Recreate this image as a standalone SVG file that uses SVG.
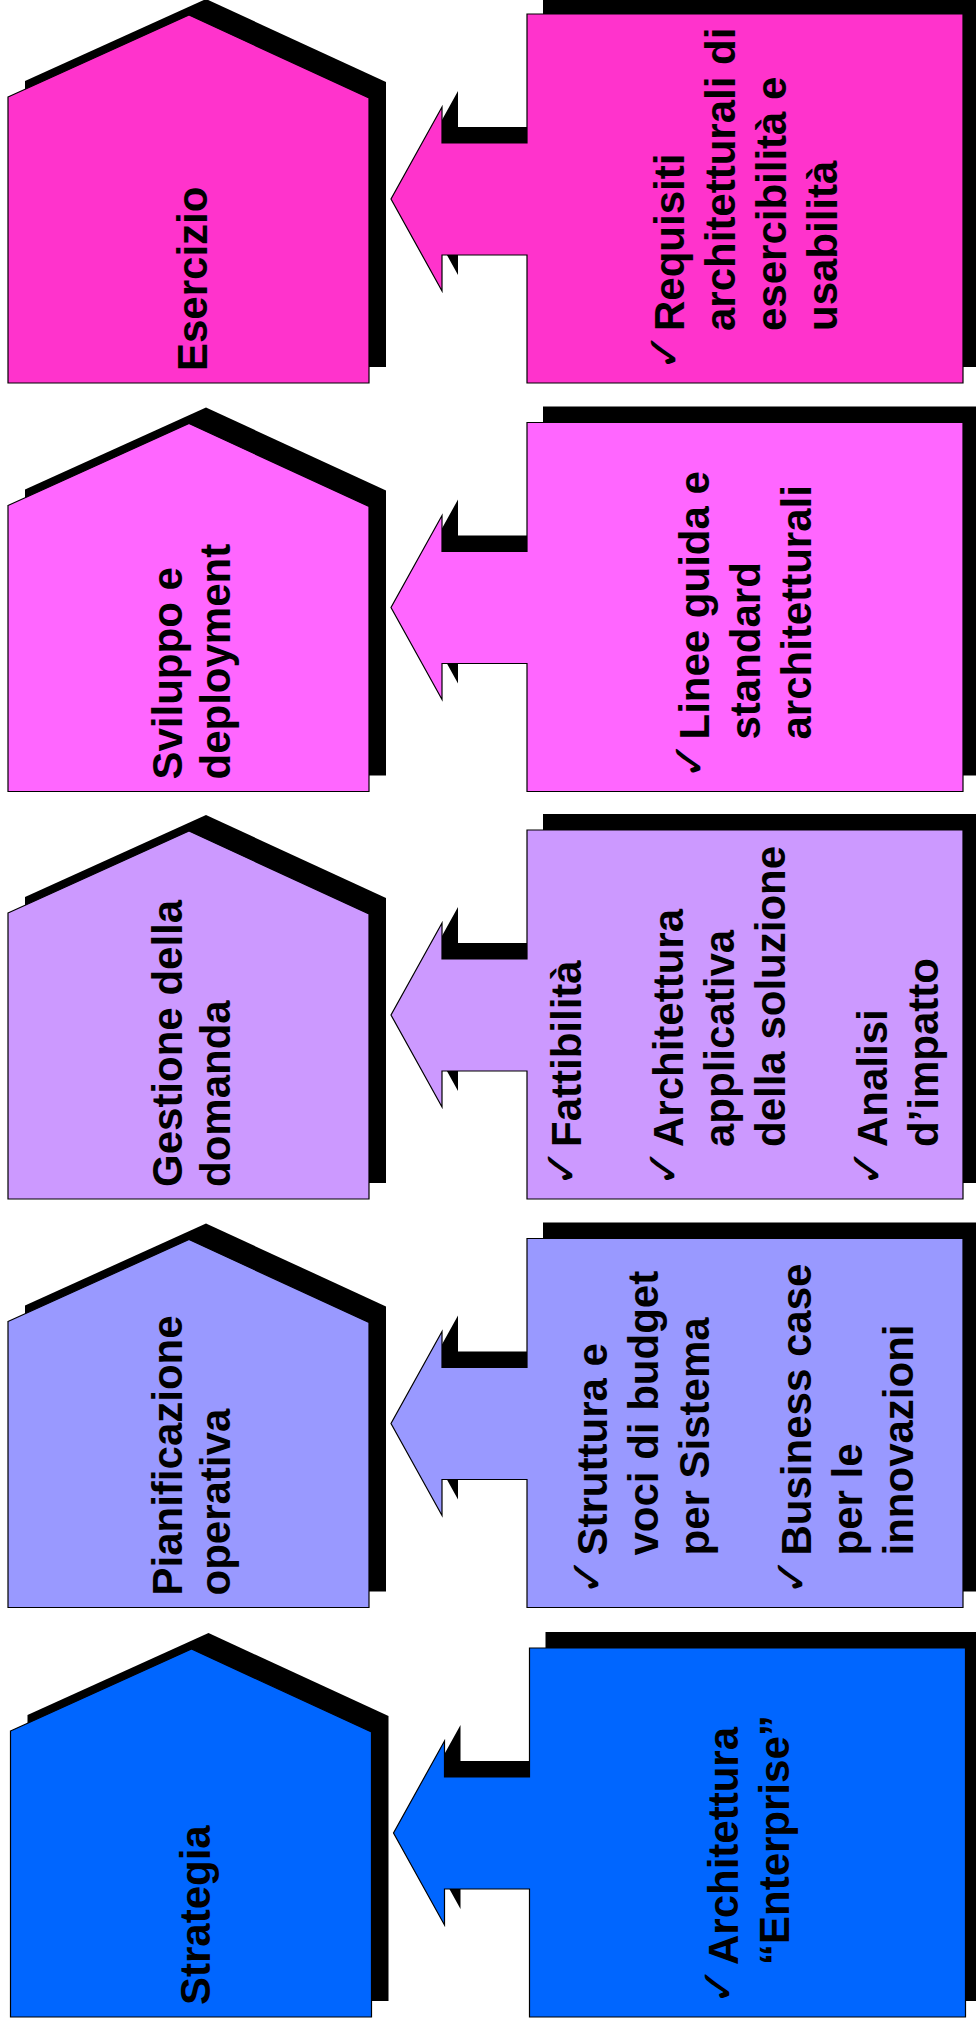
<svg xmlns="http://www.w3.org/2000/svg" xmlns:xlink="http://www.w3.org/1999/xlink" width="976" height="2028" viewBox="0 0 976 2028">
<style>
.sh{fill:#000;stroke:none}
.ol{stroke:#000;stroke-width:1.2;stroke-linejoin:miter}
.t{font-family:"Liberation Sans",Arial,sans-serif;font-weight:bold;font-size:42px;fill:#000}
.c{font-family:"DejaVu Sans",sans-serif;font-weight:bold;font-size:46px;fill:#000}
</style>
<defs>
<polygon id="house" points="8,83 189,1 369,84 369,369 8,369"/>
<polygon id="callout" points="527,0 963,0 963,369 527,369 527,241 442,241 442,277 391,185 442,93 442,129 527,129"/>
</defs>
<rect width="976" height="2028" fill="#fff"/>

<g id="row1" transform="translate(0,14)">
 <g id="phase-esercizio">
  <use href="#house" class="sh" x="17" y="-16"/>
  <use href="#house" class="ol" fill="#FF33CC"/>
  <text class="t" transform="translate(0,369) rotate(-90)" x="12" y="207">Esercizio</text>
 </g>
 <g id="input-esercizio">
  <use href="#callout" class="sh" x="16" y="-16"/>
  <use href="#callout" class="ol" fill="#FF33CC"/>
  <g transform="translate(0,369) rotate(-90)">
   <text class="c" x="12" y="680">✓</text>
   <text class="t"><tspan x="52" y="684">Requisiti</tspan><tspan x="52" y="735">architetturali di</tspan><tspan x="52" y="786">esercibilità e</tspan><tspan x="52" y="837">usabilità</tspan></text>
  </g>
 </g>
</g>

<g id="row2" transform="translate(0,422.5)">
 <g id="phase-sviluppo">
  <use href="#house" class="sh" x="17" y="-16"/>
  <use href="#house" class="ol" fill="#FF66FF"/>
  <text class="t" transform="translate(0,369) rotate(-90)"><tspan x="12" y="182">Sviluppo e</tspan><tspan x="12" y="230">deployment</tspan></text>
 </g>
 <g id="input-sviluppo">
  <use href="#callout" class="sh" x="16" y="-16"/>
  <use href="#callout" class="ol" fill="#FF66FF"/>
  <g transform="translate(0,369) rotate(-90)">
   <text class="c" x="12" y="705">✓</text>
   <text class="t"><tspan x="52" y="709">Linee guida e</tspan><tspan x="52" y="760">standard</tspan><tspan x="52" y="811">architetturali</tspan></text>
  </g>
 </g>
</g>

<g id="row3" transform="translate(0,830)">
 <g id="phase-domanda">
  <use href="#house" class="sh" x="17" y="-16"/>
  <use href="#house" class="ol" fill="#CC99FF"/>
  <text class="t" transform="translate(0,369) rotate(-90)"><tspan x="12" y="182">Gestione della</tspan><tspan x="12" y="230">domanda</tspan></text>
 </g>
 <g id="input-domanda">
  <use href="#callout" class="sh" x="16" y="-16"/>
  <use href="#callout" class="ol" fill="#CC99FF"/>
  <g transform="translate(0,369) rotate(-90)">
   <text class="c" x="12" y="577">✓</text>
   <text class="c" x="12" y="679">✓</text>
   <text class="c" x="12" y="883">✓</text>
   <text class="t"><tspan x="52" y="581">Fattibilità</tspan><tspan x="52" y="683">Architettura</tspan><tspan x="52" y="734">applicativa</tspan><tspan x="52" y="785">della soluzione</tspan><tspan x="52" y="887">Analisi</tspan><tspan x="52" y="938">d’impatto</tspan></text>
  </g>
 </g>
</g>

<g id="row4" transform="translate(0,1238.5)">
 <g id="phase-pianificazione">
  <use href="#house" class="sh" x="17" y="-16"/>
  <use href="#house" class="ol" fill="#9999FF"/>
  <text class="t" transform="translate(0,369) rotate(-90)"><tspan x="12" y="182">Pianificazione</tspan><tspan x="12" y="230">operativa</tspan></text>
 </g>
 <g id="input-pianificazione">
  <use href="#callout" class="sh" x="16" y="-16"/>
  <use href="#callout" class="ol" fill="#9999FF"/>
  <g transform="translate(0,369) rotate(-90)">
   <text class="c" x="12" y="603">✓</text>
   <text class="c" x="12" y="807">✓</text>
   <text class="t"><tspan x="52" y="607">Struttura e</tspan><tspan x="52" y="658">voci di budget</tspan><tspan x="52" y="709">per Sistema</tspan><tspan x="52" y="811">Business case</tspan><tspan x="52" y="862">per le</tspan><tspan x="52" y="913">innovazioni</tspan></text>
  </g>
 </g>
</g>

<g id="row5" transform="translate(2.5,1648)">
 <g id="phase-strategia">
  <use href="#house" class="sh" x="17" y="-16"/>
  <use href="#house" class="ol" fill="#0066FF"/>
  <text class="t" transform="translate(0,369) rotate(-90)" x="12" y="207">Strategia</text>
 </g>
 <g id="input-strategia">
  <use href="#callout" class="sh" x="16" y="-16"/>
  <use href="#callout" class="ol" fill="#0066FF"/>
  <g transform="translate(0,369) rotate(-90)">
   <text class="c" x="12" y="731">✓</text>
   <text class="t"><tspan x="52" y="735">Architettura</tspan><tspan x="52" y="786">“Enterprise”</tspan></text>
  </g>
 </g>
</g>

<g id="connectors"/>
</svg>
